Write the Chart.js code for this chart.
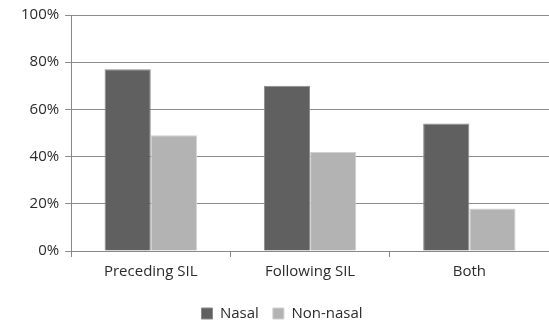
<!DOCTYPE html>
<html>
<head>
<meta charset="utf-8">
<script src="https://cdn.jsdelivr.net/npm/chart.js@4"></script>
<style>
  html, body { margin: 0; padding: 0; background: #fff; }
  #wrap { width: 549px; height: 321px; }
</style>
</head>
<body>
<div id="wrap"><canvas id="chart"></canvas></div>
<script>
// values (percent)
const categories = ['Preceding SIL', 'Following SIL', 'Both'];
const nasal = [77, 70, 54];
const nonNasal = [49, 42, 18];
const yTicks = [0, 20, 40, 60, 80, 100];

const font = { family: 'Open Sans', size: 15 };

const ctx = document.getElementById('chart').getContext('2d');
const chart = new Chart(ctx, {
  type: 'bar',
  data: {
    labels: categories,
    datasets: [
      {
        label: 'Nasal',
        data: nasal,
        backgroundColor: '#606060',
        borderColor: '#8a8a8a',
        borderWidth: 1,
        barPercentage: 1,
        categoryPercentage: 0.58
      },
      {
        label: 'Non-nasal',
        data: nonNasal,
        backgroundColor: '#b3b3b3',
        borderColor: '#d0d0d0',
        borderWidth: 1,
        barPercentage: 1,
        categoryPercentage: 0.58
      }
    ]
  },
  options: {
    responsive: true,
    maintainAspectRatio: false,
    animation: false,
    layout: { padding: { top: 10, right: 0, left: 15, bottom: -10 } },
    plugins: {
      tooltip: { enabled: false },
      legend: {
        position: 'bottom',
        labels: {
          boxWidth: 11,
          boxHeight: 11,
          padding: 14,
          color: '#2b2b2b',
          font: font
        }
      }
    },
    scales: {
      x: {
        grid: { drawOnChartArea: false, tickLength: 6, color: '#888' },
        border: { color: '#888' },
        ticks: { color: '#2b2b2b', padding: 6, font: font },
        afterFit: axis => { axis.height += 5; }
      },
      y: {
        min: 0,
        max: 100,
        afterBuildTicks: axis => { axis.ticks = yTicks.map(v => ({ value: v })); },
        grid: { color: '#8c8c8c', tickLength: 6 },
        border: { color: '#888' },
        ticks: {
          color: '#2b2b2b',
          padding: 6,
          font: font,
          callback: v => v + '%'
        }
      }
    }
  }
});
</script>
</body>
</html>
